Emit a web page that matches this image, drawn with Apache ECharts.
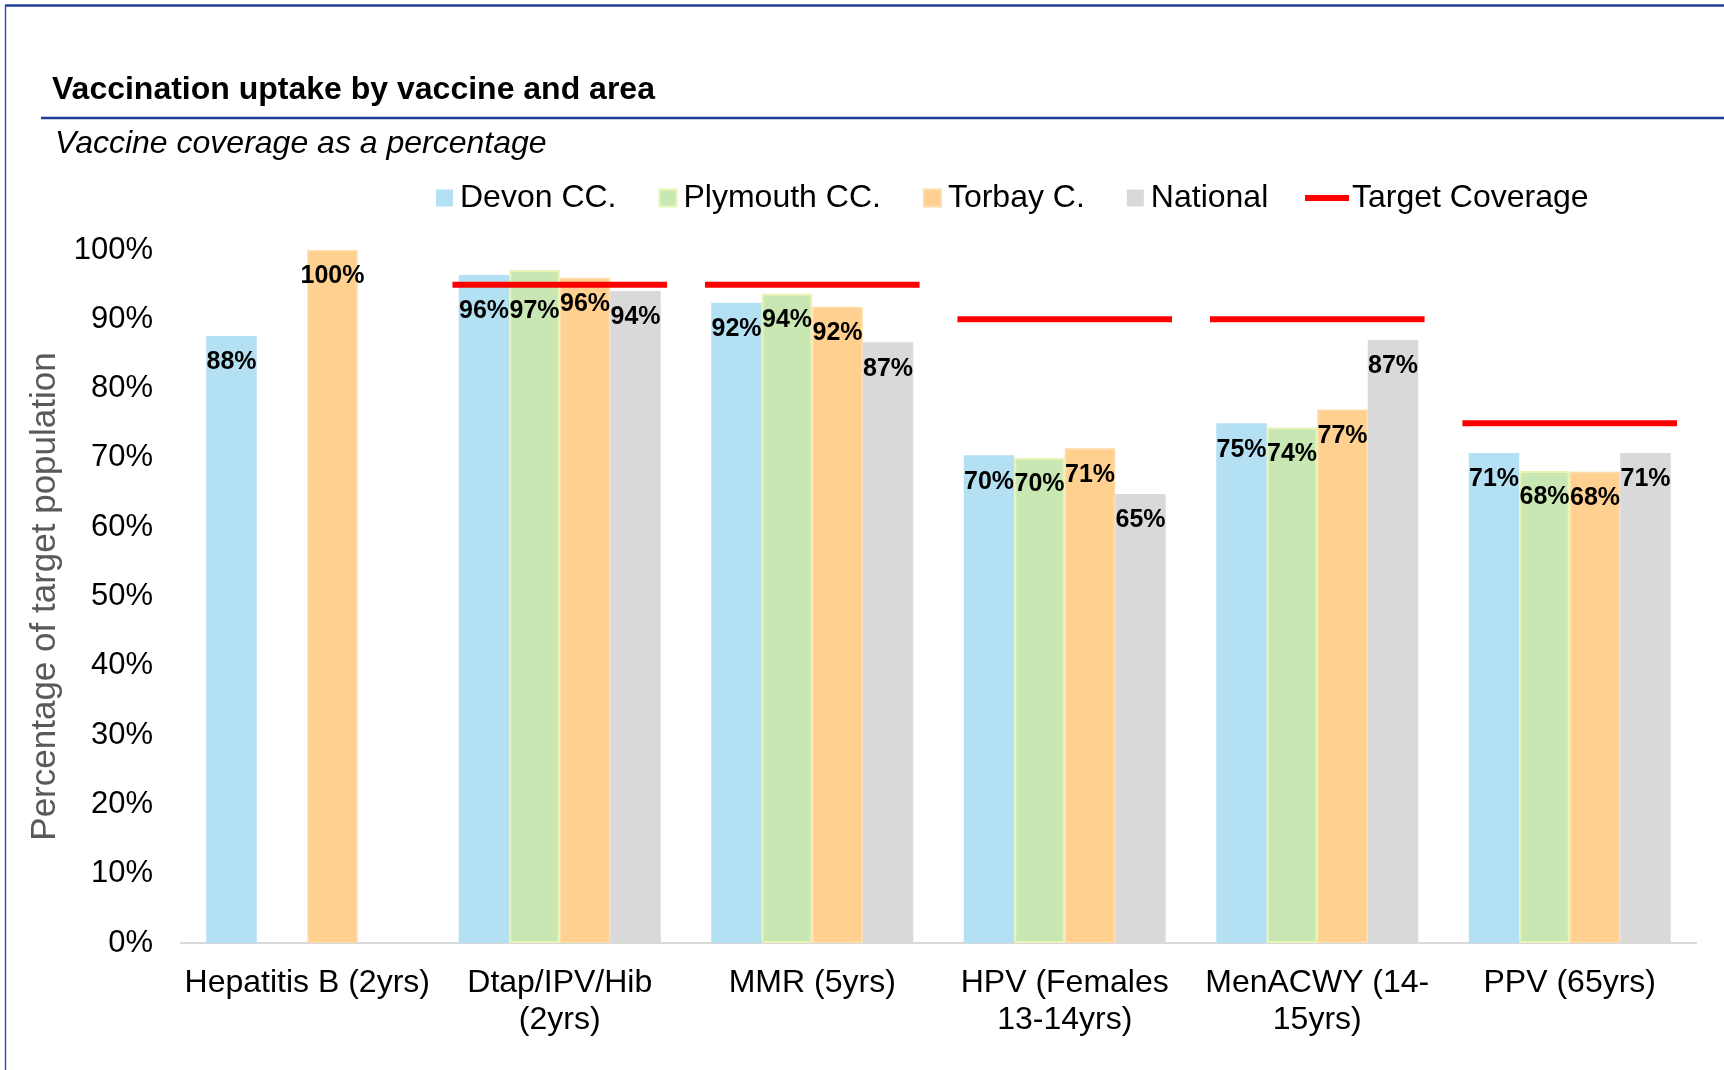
<!DOCTYPE html>
<html>
<head>
<meta charset="utf-8">
<title>Vaccination uptake by vaccine and area</title>
<script src="https://cdn.jsdelivr.net/npm/echarts@6/dist/echarts.min.js"></script>
<style>
  html, body { margin: 0; padding: 0; background: #ffffff; }
  #chart { width: 1724px; height: 1070px; }
</style>
</head>
<body>
<div id="chart"></div>
<script>
// Vaccines shown along the x axis
var categories = [
  'Hepatitis B (2yrs)',
  'Dtap/IPV/Hib\n(2yrs)',
  'MMR (5yrs)',
  'HPV (Females\n13-14yrs)',
  'MenACWY (14-\n15yrs)',
  'PPV (65yrs)'
];

// Coverage (%) by area; null where no figure is reported
var devon    = [87.6, 96.4, 92.4, 70.4, 75.0, 70.7];
var plymouth = [null, 97.1, 93.7, 70.0, 74.4, 68.1];
var torbay   = [100.0, 96.0, 91.8, 71.4, 77.0, 68.0];
var national = [null, 94.1, 86.7, 64.8, 87.0, 70.7];

// Target coverage (%) per vaccine
var target = [null, 95, 95, 90, 90, 75];

// Y axis ticks
var yTicks = [0, 10, 20, 30, 40, 50, 60, 70, 80, 90, 100];

var FONT = "'Liberation Sans', Arial, Helvetica, sans-serif";

// Labels pushed further down so they clear the target line (series name -> category index -> px)
var labelNudge = { 'Devon CC.': { 1: 10 }, 'Plymouth CC.': { 1: 15 } };

var chart = echarts.init(document.getElementById('chart'), null, { renderer: 'canvas' });

function barSeries(name, values, color, borderColor, borderWidth) {
  var nudge = labelNudge[name] || {};
  var data = values.map(function (v, i) {
    if (nudge[i] != null && v != null) {
      return { value: v, label: { offset: [0, nudge[i]] } };
    }
    return v;
  });
  return {
    name: name,
    type: 'bar',
    data: data,
    barGap: '0%',
    barCategoryGap: '20%',
    itemStyle: { color: color, borderColor: borderColor, borderWidth: borderWidth },
    label: {
      show: true,
      position: 'insideTop',
      distance: 14,
      fontFamily: FONT,
      fontSize: 25,
      fontWeight: 'bold',
      color: '#000000',
      formatter: function (p) { return Math.round(p.value) + '%'; }
    },
    emphasis: { disabled: true }
  };
}

var targetData = [];
target.forEach(function (t, i) { if (t != null) targetData.push([i, t]); });

var option = {
  animation: false,
  backgroundColor: '#ffffff',
  textStyle: { fontFamily: FONT },
  title: [
    {
      text: 'Vaccination uptake by vaccine and area',
      left: 47, top: 69,
      textStyle: { fontFamily: FONT, fontSize: 32, fontWeight: 'bold', color: '#000000' }
    },
    {
      text: 'Vaccine coverage as a percentage',
      left: 50, top: 123,
      textStyle: { fontFamily: FONT, fontSize: 32, fontStyle: 'italic', fontWeight: 'normal', color: '#000000' }
    }
  ],
  legend: [
    {
      data: ['Devon CC.', 'Plymouth CC.', 'Torbay C.', 'National'],
      left: 431, top: 177,
      icon: 'rect',
      itemWidth: 17, itemHeight: 17,
      itemGap: 42,
      textStyle: { fontFamily: FONT, fontSize: 32, color: '#000000', padding: [0, 0, 0, 2] }
    },
    {
      data: ['Target Coverage'],
      left: 1300, top: 177,
      icon: 'rect',
      itemWidth: 44, itemHeight: 6,
      textStyle: { fontFamily: FONT, fontSize: 32, color: '#000000', padding: [0, 0, 0, -2] }
    }
  ],
  grid: { left: 181, right: 28, top: 250, bottom: 127, containLabel: false },
  xAxis: {
    type: 'category',
    data: categories,
    axisLine: { show: true, lineStyle: { color: '#D9D9D9', width: 2 } },
    axisTick: { show: false },
    axisLabel: {
      fontFamily: FONT, fontSize: 32, color: '#000000',
      lineHeight: 37, margin: 22, interval: 0
    },
    splitLine: { show: false }
  },
  yAxis: {
    type: 'value',
    min: yTicks[0],
    max: yTicks[yTicks.length - 1],
    interval: yTicks[1] - yTicks[0],
    name: 'Percentage of target population',
    nameLocation: 'middle',
    nameGap: 115,
    nameTextStyle: { fontFamily: FONT, fontSize: 35, color: '#595959' },
    axisLine: { show: false },
    axisTick: { show: false },
    splitLine: { show: false },
    axisLabel: {
      fontFamily: FONT, fontSize: 31, color: '#000000', margin: 28,
      formatter: '{value}%'
    }
  },
  series: [
    barSeries('Devon CC.', devon, '#B3E0F2', '#B3E0F2', 0),
    barSeries('Plymouth CC.', plymouth, '#C8E7B3', '#E6F5B6', 2),
    barSeries('Torbay C.', torbay, '#FFD08F', '#FFDDAA', 1.5),
    barSeries('National', national, '#D9D9D9', '#D9D9D9', 0),
    {
      name: 'Target Coverage',
      type: 'custom',
      data: targetData,
      encode: { x: 0, y: 1 },
      itemStyle: { color: '#FF0000' },
      z: 5,
      renderItem: function (params, api) {
        var c = api.coord([api.value(0), api.value(1)]);
        var half = api.size([1, 0])[0] * 0.425;
        return {
          type: 'line',
          shape: { x1: c[0] - half, y1: c[1], x2: c[0] + half, y2: c[1] },
          style: { stroke: '#FF0000', lineWidth: 6 }
        };
      }
    }
  ],
  graphic: [
    // outer frame (top and left edges)
    { type: 'line', shape: { x1: 5, y1: 5.5, x2: 1724, y2: 5.5 }, style: { stroke: '#1F3F95', lineWidth: 2.5 }, z: 10 },
    { type: 'line', shape: { x1: 5.5, y1: 5, x2: 5.5, y2: 1070 }, style: { stroke: '#3456AA', lineWidth: 1.5 }, z: 10 },
    // rule under the title
    { type: 'line', shape: { x1: 41, y1: 118, x2: 1724, y2: 118 }, style: { stroke: '#1F3F95', lineWidth: 2.5 }, z: 10 }
  ]
};

chart.setOption(option);
</script>
</body>
</html>
